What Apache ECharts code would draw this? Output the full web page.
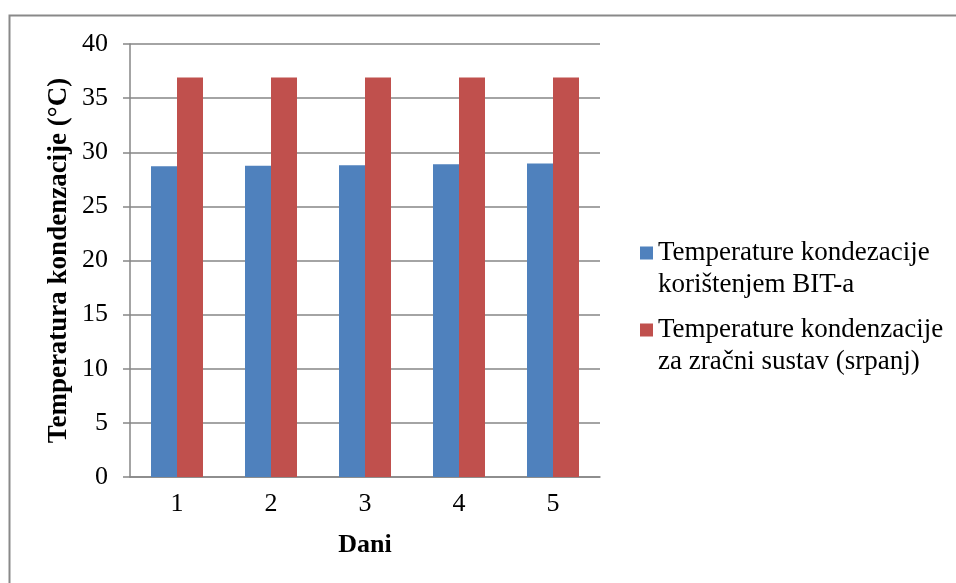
<!DOCTYPE html>
<html>
<head>
<meta charset="utf-8">
<script src="https://cdn.jsdelivr.net/npm/echarts@6/dist/echarts.min.js"></script>
<style>
  html, body { margin: 0; padding: 0; background: #fff; }
  #chart { width: 956px; height: 583px; }
</style>
</head>
<body>
<div id="chart"></div>
<script>
// podaci
const days = ['1', '2', '3', '4', '5']
const bitValues = [28.7, 28.75, 28.8, 28.9, 28.95]
const airValues = [36.9, 36.9, 36.9, 36.9, 36.9]
const seriesNames = [
  'Temperature kondezacije\nkorištenjem BIT-a',
  'Temperature kondenzacije\nza zračni sustav (srpanj)'
]

const font = '"Liberation Serif", "Times New Roman", serif'
const chart = echarts.init(document.getElementById('chart'))

// kvadratić legende poravnat s prvim redom teksta
const legendIcon = 'path://M0,0L13,0L13,13L0,13Z M0,45L0.01,45L0,45Z'

const option = {
  animation: false,
  textStyle: { fontFamily: font },
  graphic: [
    {
      type: 'rect',
      shape: { x: 9.5, y: 15.5, width: 1000, height: 1000 },
      style: { fill: 'none', stroke: '#898989', lineWidth: 2 },
      silent: true
    }
  ],
  grid: {
    left: 130,
    top: 44,
    width: 470,
    height: 433
  },
  legend: {
    orient: 'vertical',
    left: 640,
    top: 237,
    padding: 0,
    itemWidth: 13,
    itemHeight: 45,
    itemGap: 13,
    icon: legendIcon,
    textStyle: {
      fontFamily: font,
      fontSize: 27,
      color: '#000',
      lineHeight: 32
    },
    data: seriesNames
  },
  xAxis: {
    type: 'category',
    data: days,
    name: 'Dani',
    nameLocation: 'middle',
    nameGap: 55,
    nameTextStyle: { fontFamily: font, fontSize: 26, fontWeight: 'bold', color: '#000' },
    axisLine: { lineStyle: { color: '#868686', width: 1.5 } },
    axisTick: { length: 7, lineStyle: { color: '#868686', width: 1.5 } },
    axisLabel: { fontFamily: font, fontSize: 26, color: '#000', margin: 14 }
  },
  yAxis: {
    type: 'value',
    min: 0,
    max: 40,
    interval: 5,
    name: 'Temperatura kondenzacije (°C)',
    nameLocation: 'middle',
    nameGap: 57,
    nameRotate: 90,
    nameTextStyle: { fontFamily: font, fontSize: 27, fontWeight: 'bold', color: '#000' },
    axisLine: { show: true, lineStyle: { color: '#868686', width: 1.5 } },
    axisTick: { show: true, length: 7, lineStyle: { color: '#868686', width: 1.5 } },
    axisLabel: { fontFamily: font, fontSize: 26, color: '#000', margin: 22 },
    splitLine: { lineStyle: { color: '#868686', width: 1.5 } }
  },
  series: [
    {
      name: seriesNames[0],
      type: 'bar',
      data: bitValues,
      barWidth: 26,
      barGap: '0%',
      itemStyle: { color: '#4f81bd' }
    },
    {
      name: seriesNames[1],
      type: 'bar',
      data: airValues,
      barWidth: 26,
      itemStyle: { color: '#c0504d' }
    }
  ]
}

chart.setOption(option)
</script>
</body>
</html>
